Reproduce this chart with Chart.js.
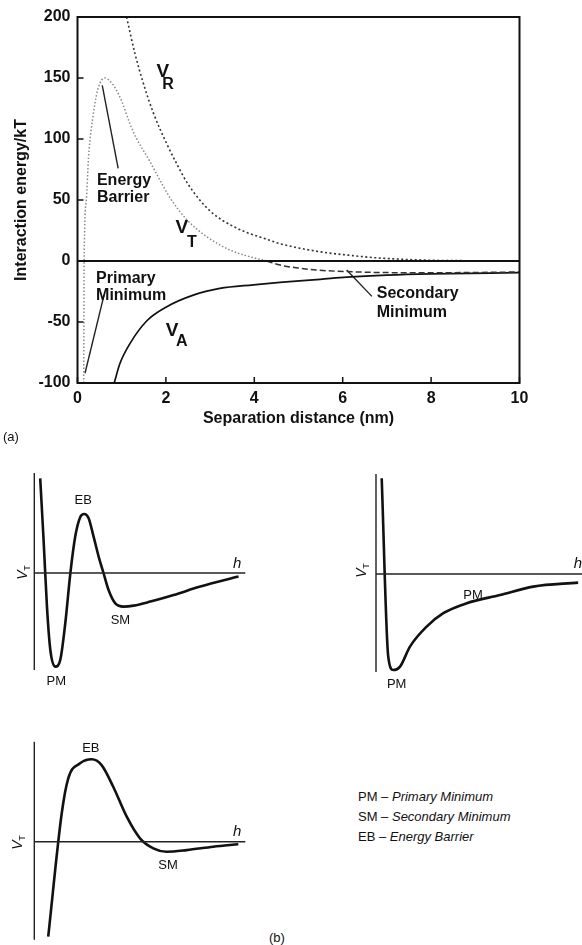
<!DOCTYPE html>
<html>
<head>
<meta charset="utf-8">
<script src="https://cdn.jsdelivr.net/npm/chart.js@4.4.1/dist/chart.umd.min.js"></script>
<style>
  html, body { margin: 0; padding: 0; background: #fff; }
  body { width: 582px; height: 945px; overflow: hidden; position: relative; }
  canvas { position: absolute; }
  .txt { position: absolute; font-family: "Liberation Sans", Arial, sans-serif; color: #111; white-space: nowrap; line-height: 16px; font-size: 13px; }
</style>
</head>
<body>
<canvas id="chartA" width="582" height="430" style="left:0;top:0"></canvas>
<canvas id="panel1" width="260" height="235" style="left:0;top:460px"></canvas>
<canvas id="panel2" width="240" height="235" style="left:356px;top:461px"></canvas>
<canvas id="panel3" width="260" height="217" style="left:0;top:728px"></canvas>

<div class="txt" style="left:3px;top:429px">(a)</div>
<div class="txt" style="left:269px;top:930px">(b)</div>
<div class="txt" style="left:358px;top:789px">PM – <i>Primary Minimum</i></div>
<div class="txt" style="left:358px;top:809px">SM – <i>Secondary Minimum</i></div>
<div class="txt" style="left:358px;top:829px">EB – <i>Energy Barrier</i></div>

<script>
// (a) interaction energy (kT) against separation distance (nm)
const vrDist = [1.11, 1.3, 1.47, 1.72, 2.02, 2.24, 2.5, 3.0, 3.6, 4.35, 4.6, 5.5, 6.2, 6.8, 8.0, 9.0, 10];
const vrEnergy = [200, 170, 148, 121, 96, 80, 63, 41, 27, 17, 14, 7.5, 4.5, 2.5, 0.6, 0.2, 0];

const vtDist = [0.14, 0.145, 0.15, 0.2, 0.25, 0.36, 0.47, 0.62, 0.72, 0.85, 1.0, 1.17, 1.34, 1.6, 1.87, 2.09, 2.47, 2.92, 3.45, 3.9, 4.28, 4.58, 5.0, 5.4, 6.1, 7.0, 8.0, 9.0, 10];
const vtEnergy = [-100, -50, 0, 50, 85, 121, 142, 150, 148, 142, 131, 114, 100, 84, 66, 52, 34, 20, 9, 3.5, 0, -3.3, -5.8, -7.4, -8.7, -9.5, -9.6, -9.4, -9];

const vaDist = [0.83, 0.96, 1.19, 1.57, 2.02, 2.62, 3.22, 3.98, 4.58, 5.49, 6.09, 7.0, 8.0, 10];
const vaEnergy = [-100, -84, -67.5, -49, -37.5, -28, -22.5, -19.5, -17.5, -15, -13.2, -11.5, -10.5, -9.6];

// leader lines from the labels to the curve
const barrierLineX = [0.56, 0.92];
const barrierLineY = [144, 76];
const primaryLineX = [0.17, 0.6];
const primaryLineY = [-92, -28];
const secondaryLineX = [6.09, 6.66];
const secondaryLineY = [-7.4, -29];

// (b) sketch curves, arbitrary units
const p1Dist = [0.28, 0.44, 0.6, 0.76, 1.0, 1.23, 1.47, 1.71, 1.94, 2.18, 2.37, 2.57, 2.81, 3.05, 3.28, 3.52, 3.84, 4.23, 4.71, 5.5, 6.6, 7.87, 9.68];
const p1Vt = [4.73, 1.65, -1.68, -3.85, -4.68, -4.35, -2.5, 0, 1.82, 2.8, 2.95, 2.75, 1.82, 0.82, 0, -0.85, -1.52, -1.68, -1.63, -1.43, -1.1, -0.68, -0.18];

const p2Dist = [0.27, 0.58, 0.82, 1.14, 1.61, 2.4, 3.19, 4.3, 5.88, 7.45, 9.58];
const p2Vt = [4.79, -4.13, -4.8, -4.63, -3.63, -2.63, -1.96, -1.46, -1.05, -0.63, -0.43];

const p3Dist = [0.66, 1.3, 1.61, 2.17, 2.72, 3.19, 3.74, 4.38, 5.01, 5.64, 6.27, 7.22, 8.48, 9.67];
const p3Vt = [-4.75, 1.42, 3.17, 3.92, 4.12, 3.83, 2.75, 1.25, 0.17, -0.33, -0.5, -0.42, -0.25, -0.13];

const FONT = "'Liberation Sans', Arial, sans-serif";
Chart.defaults.font.family = FONT;
Chart.defaults.color = '#111';

function pts(xs, ys) {
    return xs.map((x, i) => ({ x: x, y: ys[i] }));
}

// text placed in data coordinates
const notesPlugin = {
    id: 'notes',
    afterDraw(chart, args, opts) {
        const ctx = chart.ctx;
        const sx = chart.scales.x, sy = chart.scales.y;
        ctx.save();
        ctx.fillStyle = '#111';
        ctx.textBaseline = 'middle';
        (opts.items || []).forEach(n => {
            const px = sx.getPixelForValue(n.x);
            const py = sy.getPixelForValue(n.y);
            if (n.vt) {
                // rotated V with subscript T
                ctx.save();
                ctx.translate(px, py);
                ctx.rotate(-Math.PI / 2);
                ctx.textAlign = 'center';
                ctx.font = 'italic 14px ' + FONT;
                ctx.fillText('V', -2, 0);
                ctx.font = '9px ' + FONT;
                ctx.fillText('T', 5, 4);
                ctx.restore();
                return;
            }
            ctx.font = n.font;
            ctx.textAlign = n.align || 'center';
            ctx.fillText(n.text, px, py);
        });
        ctx.restore();
    }
};

// box round the plot plus inward tick marks
const frameTicks = {
    id: 'frameTicks',
    afterDatasetsDraw(chart) {
        const { ctx, chartArea: a } = chart;
        const sx = chart.scales.x, sy = chart.scales.y;
        ctx.save();
        ctx.strokeStyle = '#111';
        ctx.lineWidth = 2;
        ctx.strokeRect(a.left, a.top, a.right - a.left, a.bottom - a.top);
        ctx.lineWidth = 1.5;
        ctx.beginPath();
        sx.ticks.forEach(t => {
            const px = sx.getPixelForValue(t.value);
            ctx.moveTo(px, a.bottom);
            ctx.lineTo(px, a.bottom - 6);
        });
        sy.ticks.forEach(t => {
            const py = sy.getPixelForValue(t.value);
            ctx.moveTo(a.left, py);
            ctx.lineTo(a.left + 6, py);
        });
        ctx.stroke();
        ctx.restore();
    }
};

const bold16 = 'bold 16px ' + FONT;
const notesA = [
    { x: 0.44, y: 65.6, text: 'Energy', font: bold16, align: 'left' },
    { x: 0.44, y: 51.6, text: 'Barrier', font: bold16, align: 'left' },
    { x: 0.42, y: -14.8, text: 'Primary', font: bold16, align: 'left' },
    { x: 0.42, y: -28.7, text: 'Minimum', font: bold16, align: 'left' },
    { x: 6.77, y: -27, text: 'Secondary', font: bold16, align: 'left' },
    { x: 6.77, y: -42.6, text: 'Minimum', font: bold16, align: 'left' },
    { x: 1.93, y: 155, text: 'V', font: 'bold 19px ' + FONT },
    { x: 2.05, y: 145, text: 'R', font: bold16 },
    { x: 2.36, y: 27, text: 'V', font: 'bold 19px ' + FONT },
    { x: 2.59, y: 14.8, text: 'T', font: bold16 },
    { x: 2.14, y: -57.4, text: 'V', font: 'bold 19px ' + FONT },
    { x: 2.36, y: -66.4, text: 'A', font: bold16 }
];

const curve = { pointRadius: 0, cubicInterpolationMode: 'monotone', fill: false };
const leader = { pointRadius: 0, borderColor: '#222', borderWidth: 1.4, tension: 0, fill: false };

new Chart(document.getElementById('chartA'), {
    type: 'line',
    data: {
        datasets: [
            { data: pts([0, 10], [0, 0]), borderColor: '#111', borderWidth: 2, pointRadius: 0 },
            Object.assign({ label: 'VR', data: pts(vrDist, vrEnergy), borderColor: '#333', borderWidth: 1.6, borderDash: [2, 2.5] }, curve),
            Object.assign({
                label: 'VT', data: pts(vtDist, vtEnergy), borderWidth: 1.5,
                segment: {
                    borderDash: c => c.p0.parsed.x >= 4.2 ? [6, 3] : [1.5, 2],
                    borderColor: c => c.p0.parsed.x >= 4.2 ? '#333' : '#888'
                }
            }, curve),
            Object.assign({ label: 'VA', data: pts(vaDist, vaEnergy), borderColor: '#111', borderWidth: 1.7 }, curve),
            Object.assign({ data: pts(barrierLineX, barrierLineY) }, leader),
            Object.assign({ data: pts(primaryLineX, primaryLineY) }, leader),
            Object.assign({ data: pts(secondaryLineX, secondaryLineY) }, leader)
        ]
    },
    options: {
        responsive: false,
        animation: false,
        events: [],
        layout: { padding: { top: 17, right: 62.5, bottom: 0, left: 0 } },
        plugins: {
            legend: { display: false },
            tooltip: { enabled: false },
            notes: { items: notesA }
        },
        scales: {
            x: {
                type: 'linear', min: 0, max: 10,
                ticks: { stepSize: 2, font: { size: 16, weight: 'bold' }, color: '#111', padding: 6, maxRotation: 0 },
                grid: { display: false, drawTicks: false },
                border: { display: false },
                title: { display: true, text: 'Separation distance (nm)', font: { size: 16, weight: 'bold' }, color: '#111', padding: { top: 0, bottom: 2 } },
                afterFit: s => { s.height = 47; }
            },
            y: {
                type: 'linear', min: -100, max: 200,
                ticks: { stepSize: 50, font: { size: 16, weight: 'bold' }, color: '#111', padding: 7 },
                grid: { display: false, drawTicks: false },
                border: { display: false },
                title: { display: true, text: 'Interaction energy/kT', font: { size: 16, weight: 'bold' }, color: '#111', padding: { top: 12, bottom: 0 } },
                afterFit: s => { s.width = 77.5; }
            }
        }
    },
    plugins: [frameTicks, notesPlugin]
});

function sketch(id, xs, ys, axisBottom, padding, items) {
    return new Chart(document.getElementById(id), {
        type: 'line',
        data: {
            datasets: [
                { data: pts([0, 10], [0, 0]), borderColor: '#222', borderWidth: 1.4, pointRadius: 0, clip: false },
                { data: pts([0, 0], [5, axisBottom]), borderColor: '#222', borderWidth: 1.4, pointRadius: 0, clip: false },
                Object.assign({ data: pts(xs, ys), borderColor: '#111', borderWidth: 2.6, clip: false }, curve)
            ]
        },
        options: {
            responsive: false,
            animation: false,
            events: [],
            layout: { padding: padding },
            plugins: {
                legend: { display: false },
                tooltip: { enabled: false },
                notes: { items: items }
            },
            scales: {
                x: { type: 'linear', min: 0, max: 10, display: false },
                y: { type: 'linear', min: -5, max: 5, display: false }
            }
        },
        plugins: [notesPlugin]
    });
}

const f13 = '13px ' + FONT;
const hFont = 'italic 15px ' + FONT;

sketch('panel1', p1Dist, p1Vt, -4.85, { left: 34.3, top: 13, right: 14.7, bottom: 22 }, [
    { x: 2.32, y: 3.65, text: 'EB', font: f13 },
    { x: 4.08, y: -2.35, text: 'SM', font: f13 },
    { x: 1.04, y: -5.4, text: 'PM', font: f13 },
    { x: 9.62, y: 0.45, text: 'h', font: hFont },
    { x: -0.52, y: 0, vt: true }
]);

sketch('panel2', p2Dist, p2Vt, -4.9, { left: 20, top: 13, right: 9, bottom: 22 }, [
    { x: 4.6, y: -1.05, text: 'PM', font: f13 },
    { x: 0.98, y: -5.5, text: 'PM', font: f13 },
    { x: 9.57, y: 0.5, text: 'h', font: hFont },
    { x: -0.66, y: 0.15, vt: true }
]);

sketch('panel3', p3Dist, p3Vt, -4.9, { left: 34.3, top: 13.7, right: 14.7, bottom: 3.3 }, [
    { x: 2.68, y: 4.64, text: 'EB', font: f13 },
    { x: 6.34, y: -1.17, text: 'SM', font: f13 },
    { x: 9.61, y: 0.5, text: 'h', font: hFont },
    { x: -0.77, y: -0.07, vt: true }
]);
</script>
</body>
</html>
